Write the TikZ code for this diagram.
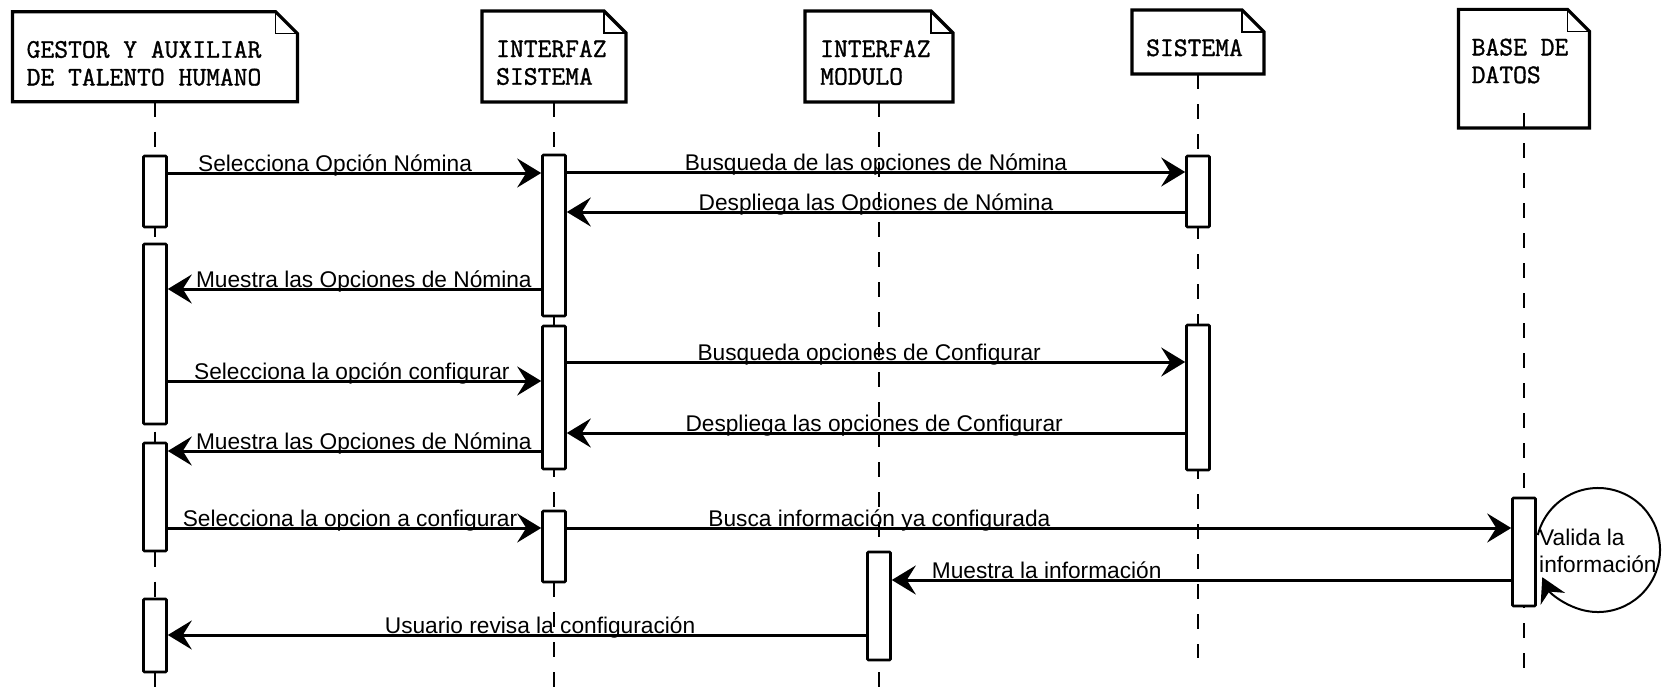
\documentclass[tikz,border=0pt]{standalone}
\usepackage{fontspec}
\setmainfont{Liberation Sans}
\newfontfamily\hdrfont{Latin Modern Mono}[FakeBold=1.2]
\usetikzlibrary{arrows.meta,calc}
\begin{document}
\begin{tikzpicture}[x=1pt,y=-1pt,
  hbox/.style={draw=none,fill=white,inner sep=0pt,outer sep=0pt},
  hline/.style={line width=3.2pt,line join=miter},
  foldline/.style={line width=1.3pt},
  htext/.style={font=\hdrfont\fontsize{26.8}{27.7}\selectfont,align=left,anchor=base west,inner sep=0pt},
  life/.style={line width=1.5pt,dash pattern=on 15pt off 15pt},
  bar/.style={draw,fill=white,line width=2.6pt,minimum width=23pt,inner sep=0pt,rounded corners=1pt},
  msg/.style={line width=3pt,-{Stealth[length=24pt,width=29pt,inset=9pt]}},
  selfmsg/.style={line width=2pt,-{Stealth[length=24pt,width=27pt,inset=8pt]}},
  lbl/.style={font=\fontsize{22.7}{26}\selectfont,anchor=base,inner sep=0pt,yshift=2pt},
  note/.style={font=\fontsize{22.7}{27}\selectfont,align=left,anchor=base west,inner sep=0pt}]
\fill[white] (0,0) rectangle (1665,691);
\useasboundingbox (0,0) rectangle (1665,691);
\newcommand\drawhdr[1]{%
  \draw[hline] (#1.north west) -- ($(#1.north east)+(-22,0)$) -- ($(#1.north east)+(0,22)$) -- (#1.south east) -- (#1.south west) -- cycle;
  \draw[foldline] ($(#1.north east)+(-22,0)$) |- ($(#1.north east)+(0,22)$);}
% headers
\node[hbox,minimum width=285pt,minimum height=90pt] (h1) at (155,56.7) {};
\node[hbox,minimum width=144pt,minimum height=91pt] (h2) at (554,56.5) {};
\node[hbox,minimum width=148pt,minimum height=91pt] (h3) at (879,56.5) {};
\node[hbox,minimum width=132pt,minimum height=64pt] (h4) at (1198,42) {};
\node[hbox,minimum width=131pt,minimum height=118.7pt] (h5) at (1524,68.7) {};
\drawhdr{h1}\drawhdr{h2}\drawhdr{h3}\drawhdr{h4}\drawhdr{h5}
\node[htext] (t1) at ($(h1.north west)+(14,73.7)$) {GESTOR Y AUXILIAR\\DE TALENTO HUMANO};
\node[htext] (t2) at ($(h2.north west)+(14,73.7)$) {INTERFAZ\\SISTEMA};
\node[htext] (t3) at ($(h3.north west)+(15,73.7)$) {INTERFAZ\\MODULO};
\node[htext] (t4) at ($(h4.north west)+(14,46)$) {SISTEMA};
\node[htext] (t5) at ($(h5.north west)+(13,73.7)$) {BASE DE\\DATOS};
% lifelines
\coordinate (e1end) at (155,688);
\coordinate (e2end) at (554,690);
\coordinate (e3end) at (879,691);
\coordinate (e4end) at (1198,658);
\coordinate (e5end) at (1524,675);
\draw[life] (h1.south) -- (e1end);
\draw[life] (h2.south) -- (e2end);
\draw[life] (h3.south) -- (e3end);
\draw[life] (h4.south) -- (e4end);
\draw[life] (h5.south |- 0,113) -- (e5end);
% self message circle
\coordinate (cc) at (1598,550);
\draw[selfmsg] ([shift={(194:62)}]cc) arc[start angle=194,end angle=514,radius=62];
% activation bars
\node[bar,minimum height=71pt] (a1) at (155,191.5) {};
\node[bar,minimum height=180pt] (a2) at (155,334) {};
\node[bar,minimum height=108pt] (a3) at (155,497) {};
\node[bar,minimum height=73pt] (a4) at (155,635.5) {};
\node[bar,minimum height=161pt] (b1) at (554,235.5) {};
\node[bar,minimum height=143pt] (b2) at (554,397.5) {};
\node[bar,minimum height=71pt] (b3) at (554,546.5) {};
\node[bar,minimum height=108pt] (c1) at (879,606) {};
\node[bar,minimum height=71pt] (d1) at (1198,191.5) {};
\node[bar,minimum height=145pt] (d2) at (1198,397.5) {};
\node[bar,minimum height=108pt] (e1) at (1524,552) {};
\node[note] (v) at (1539,572) {Valida la\\información};
% messages
\draw[msg] (a1.east |- 0,173) -- (b1.west |- 0,173) node[lbl,pos=0.448]{Selecciona Opción Nómina};
\draw[msg] (b1.east |- 0,172) -- (d1.west |- 0,172) node[lbl,pos=0.5]{Busqueda de las opciones de Nómina};
\draw[msg] (d1.west |- 0,212) -- (b1.east |- 0,212) node[lbl,pos=0.5]{Despliega las Opciones de Nómina};
\draw[msg] (b1.west |- 0,289) -- (a2.east |- 0,289) node[lbl,pos=0.475]{Muestra las Opciones de Nómina};
\draw[msg] (b2.east |- 0,362) -- (d2.west |- 0,362) node[lbl,pos=0.489]{Busqueda opciones de Configurar};
\draw[msg] (a2.east |- 0,381) -- (b2.west |- 0,381) node[lbl,pos=0.493]{Selecciona la opción configurar};
\draw[msg] (d2.west |- 0,433) -- (b2.east |- 0,433) node[lbl,pos=0.503]{Despliega las opciones de Configurar};
\draw[msg] (b2.west |- 0,451) -- (a3.east |- 0,451) node[lbl,pos=0.475]{Muestra las Opciones de Nómina};
\draw[msg] (a3.east |- 0,528) -- (b3.west |- 0,528) node[lbl,pos=0.488]{Selecciona la opcion a configurar};
\draw[msg] (b3.east |- 0,528) -- (e1.west |- 0,528) node[lbl,pos=0.331]{Busca información ya configurada};
\draw[msg] (e1.west |- 0,580) -- (c1.east |- 0,580) node[lbl,pos=0.75]{Muestra la información};
\draw[msg] (c1.west |- 0,635) -- (a4.east |- 0,635) node[lbl,pos=0.467]{Usuario revisa la configuración};
\end{tikzpicture}
\end{document}
